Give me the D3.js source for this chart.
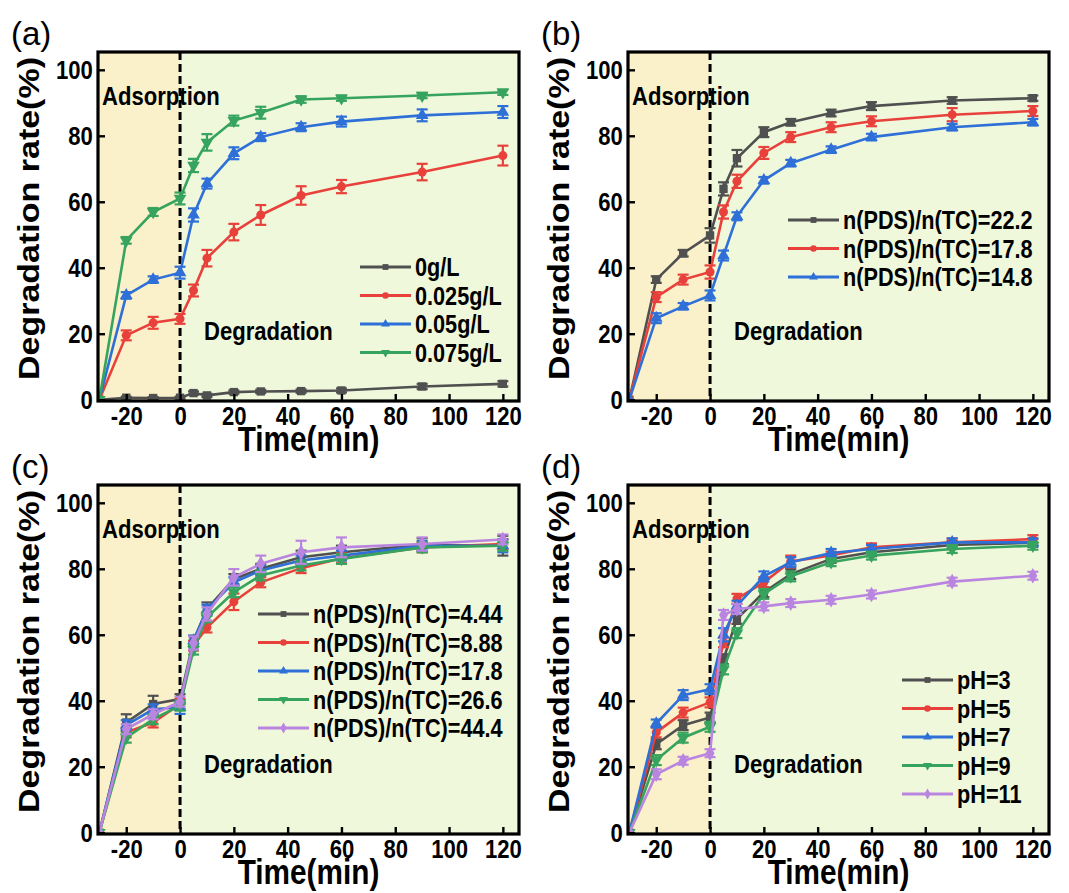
<!DOCTYPE html>
<html>
<head>
<meta charset="utf-8">
<script src="https://cdn.jsdelivr.net/npm/d3@7"></script>
<style>
  body { margin: 0; background: #fff; }
  svg { display: block; font-family: Arial, "Liberation Sans", sans-serif; }
</style>
</head>
<body>
<div id="chart"></div>
<script>
"use strict";

// sampling times (min), shared by every panel
var times = [-30, -20, -10, 0, 5, 10, 20, 30, 45, 60, 90, 120];
var xTicks = [-20, 0, 20, 40, 60, 80, 100, 120];
var yTicks = [0, 20, 40, 60, 80, 100];

// (a) catalyst dosage
var namesA = ["0g/L", "0.025g/L", "0.05g/L", "0.075g/L"];
var a0     = [0, 0.6, 0.5, 0.6, 2.0, 1.3, 2.3, 2.5, 2.6, 2.8, 4.0, 4.8];
var a0Err  = [0, 0.3, 0.3, 0.3, 0.5, 0.5, 0.5, 0.5, 0.5, 0.6, 0.8, 0.8];
var a025   = [0, 19.5, 23.3, 24.5, 33.1, 42.9, 50.8, 56.0, 61.9, 64.6, 69.0, 74.0];
var a025Err= [0, 1.5, 1.8, 1.5, 1.8, 2.5, 2.5, 3.0, 2.8, 2.0, 2.5, 3.0];
var a05    = [0, 31.6, 36.4, 38.5, 56.0, 65.5, 74.7, 79.6, 82.6, 84.3, 86.2, 87.2];
var a05Err = [0, 1.0, 1.0, 1.8, 2.0, 1.5, 1.8, 1.2, 1.2, 1.5, 1.8, 1.8];
var a075   = [0, 48.3, 56.9, 61.0, 71.0, 78.0, 84.6, 87.0, 91.0, 91.4, 92.2, 93.2];
var a075Err= [0, 1.0, 1.2, 1.8, 2.0, 2.5, 1.5, 1.8, 1.0, 0.8, 0.8, 0.8];

// (b) n(PDS)/n(TC) at fixed dosage
var namesB = ["n(PDS)/n(TC)=22.2", "n(PDS)/n(TC)=17.8", "n(PDS)/n(TC)=14.8"];
var b222   = [0, 36.4, 44.4, 49.8, 63.9, 73.2, 81.1, 84.1, 86.9, 89.0, 90.7, 91.4];
var b222Err= [0, 1.0, 1.0, 2.2, 2.0, 2.5, 1.5, 1.0, 1.0, 1.2, 1.0, 0.8];
var b178   = [0, 31.1, 36.4, 38.7, 56.9, 66.2, 74.8, 79.6, 82.6, 84.4, 86.4, 87.5];
var b178Err= [0, 1.5, 1.5, 2.0, 2.0, 2.0, 1.8, 1.5, 1.5, 1.5, 2.0, 1.5];
var b148   = [0, 24.7, 28.3, 31.6, 43.7, 55.6, 66.5, 71.7, 75.8, 79.6, 82.6, 84.1];
var b148Err= [0, 1.5, 1.0, 1.5, 1.5, 1.2, 1.0, 1.0, 1.0, 1.0, 1.0, 1.0];

// (c) n(PDS)/n(TC) ratio
var namesC = ["n(PDS)/n(TC)=4.44", "n(PDS)/n(TC)=8.88", "n(PDS)/n(TC)=17.8",
              "n(PDS)/n(TC)=26.6", "n(PDS)/n(TC)=44.4"];
var c444   = [0, 33.4, 39.0, 40.5, 58.2, 67.8, 76.9, 80.0, 83.5, 85.0, 87.3, 87.0];
var c444Err= [0, 2.5, 2.5, 1.5, 1.5, 2.0, 1.5, 1.5, 2.0, 2.0, 2.0, 3.0];
var c888   = [0, 30.4, 33.4, 39.0, 56.7, 62.2, 70.0, 75.9, 80.2, 83.2, 86.5, 87.5];
var c888Err= [0, 1.5, 1.5, 1.5, 1.5, 1.5, 2.5, 1.5, 1.5, 1.5, 1.5, 1.5];
var c178   = [0, 32.6, 37.4, 38.0, 58.2, 67.6, 75.9, 79.5, 82.5, 84.0, 87.0, 87.0];
var c178Err= [0, 1.5, 1.5, 2.0, 1.5, 1.5, 1.5, 1.5, 1.5, 1.5, 1.5, 2.0];
var c266   = [0, 28.8, 34.4, 38.5, 55.5, 65.3, 72.9, 78.0, 81.0, 83.0, 86.5, 87.0];
var c266Err= [0, 1.5, 1.5, 1.5, 1.5, 1.5, 1.5, 1.5, 1.5, 1.5, 1.5, 1.5];
var c444b  = [0, 31.4, 35.9, 39.7, 57.5, 66.3, 77.4, 81.5, 85.0, 86.5, 87.5, 88.9];
var c444bErr=[0, 1.5, 1.5, 1.5, 2.0, 2.0, 2.5, 2.5, 3.5, 3.0, 2.0, 1.5];

// (d) initial pH
var namesD = ["pH=3", "pH=5", "pH=7", "pH=9", "pH=11"];
var d3v    = [0, 26.8, 32.6, 34.9, 52.6, 64.8, 72.9, 78.4, 83.0, 85.0, 87.2, 87.9];
var d3Err  = [0, 1.5, 1.5, 1.5, 1.5, 1.5, 1.5, 1.5, 1.2, 1.2, 1.2, 1.2];
var d5v    = [0, 30.4, 36.4, 39.5, 57.7, 70.9, 75.9, 82.2, 84.0, 86.5, 88.0, 89.0];
var d5Err  = [0, 1.5, 1.5, 1.5, 1.5, 1.5, 1.5, 1.8, 1.2, 1.2, 1.2, 1.2];
var d7v    = [0, 33.1, 41.7, 43.5, 60.0, 68.8, 77.7, 82.0, 84.8, 86.0, 88.0, 88.0];
var d7Err  = [0, 1.2, 1.5, 1.5, 2.0, 1.5, 1.5, 1.5, 1.2, 1.2, 1.2, 1.2];
var d9v    = [0, 22.0, 28.8, 32.1, 49.5, 60.5, 72.4, 77.7, 82.0, 84.0, 86.0, 87.0];
var d9Err  = [0, 1.5, 1.5, 1.5, 1.5, 1.5, 1.5, 1.5, 1.2, 1.2, 1.2, 1.2];
var d11v   = [0, 17.7, 21.8, 24.1, 66.0, 67.8, 68.6, 69.6, 70.6, 72.2, 76.1, 77.9];
var d11Err = [0, 1.5, 1.2, 1.2, 1.5, 1.5, 1.2, 1.2, 1.2, 1.2, 1.2, 1.2];

// style per series slot (same order in every panel)
var colors = ["#505050", "#e8413b", "#2e6fd8", "#36a35e", "#b985e0"];
var shapes = ["square", "circle", "triangle", "triangleDown", "diamond"];

var panels = [
    { tag: "(a)", left: 98,  top: 52,  names: namesA,
      values: [a0, a025, a05, a075], errors: [a0Err, a025Err, a05Err, a075Err],
      legX: 262, legY: 215 },
    { tag: "(b)", left: 628, top: 52,  names: namesB,
      values: [b222, b178, b148], errors: [b222Err, b178Err, b148Err],
      legX: 160, legY: 168 },
    { tag: "(c)", left: 98,  top: 485, names: namesC,
      values: [c444, c888, c178, c266, c444b], errors: [c444Err, c888Err, c178Err, c266Err, c444bErr],
      legX: 160, legY: 129 },
    { tag: "(d)", left: 628, top: 485, names: namesD,
      values: [d3v, d5v, d7v, d9v, d11v], errors: [d3Err, d5Err, d7Err, d9Err, d11Err],
      legX: 274, legY: 195 }
];

var W = 1069, H = 893;
var pw = 421, ph = 349;
var squeeze = 0.85;   // the figure's lettering is narrowed horizontally

var svg = d3.select("#chart").append("svg")
    .attr("width", W)
    .attr("height", H);

svg.append("defs").append("clipPath").attr("id", "plotclip")
  .append("rect").attr("width", pw).attr("height", ph);

// scales (same for every panel, drawn in local coords)
var x = d3.scaleLinear().domain([-30.5, 126]).range([0, pw]);
var y = d3.scaleLinear().domain([-0.4, 105.4]).range([ph, 0]);

function symbolType(shape) {
    if (shape == "square") return d3.symbolSquare;
    if (shape == "circle") return d3.symbolCircle;
    if (shape == "diamond") return d3.symbolDiamond;
    return d3.symbolTriangle;
}
function symbolRot(shape) {
    return shape == "triangleDown" ? " rotate(180)" : "";
}

// narrowed bold text helper
function label(sel, px, py, size, str, anchor) {
    return sel.append("text")
        .attr("transform", "translate(" + px + "," + py + ") scale(" + squeeze + ",1)")
        .attr("text-anchor", anchor || "start")
        .attr("font-size", size)
        .attr("font-weight", "bold")
        .text(str);
}

var line = d3.line()
    .x(function(d) { return x(d.t); })
    .y(function(d) { return y(d.v); });

panels.forEach(function(p) {
    var g = svg.append("g")
        .attr("transform", "translate(" + p.left + "," + p.top + ")");

    // background regions
    g.append("rect")
        .attr("x", 0).attr("y", 0)
        .attr("width", x(0)).attr("height", ph)
        .attr("fill", "#faf0c9");
    g.append("rect")
        .attr("x", x(0)).attr("y", 0)
        .attr("width", pw - x(0)).attr("height", ph)
        .attr("fill", "#eff8db");

    // region labels
    label(g, 4, 53, 26, "Adsorption");
    label(g, 106, 288, 26, "Degradation");

    // dashed divider at t = 0
    g.append("line")
        .attr("x1", x(0)).attr("x2", x(0))
        .attr("y1", 0).attr("y2", ph)
        .attr("stroke", "#000")
        .attr("stroke-width", 3)
        .attr("stroke-dasharray", "8,4");

    var plot = g.append("g").attr("clip-path", "url(#plotclip)");

    p.values.forEach(function(vals, i) {
        var pts = times.map(function(t, k) { return { t: t, v: vals[k], e: p.errors[i][k] }; });
        var col = colors[i];

        plot.append("path")
            .datum(pts)
            .attr("fill", "none")
            .attr("stroke", col)
            .attr("stroke-width", 2.6)
            .attr("d", line);

        // error bars
        var eb = plot.selectAll(null)
            .data(pts.filter(function(d) { return d.e > 0; }))
            .enter().append("g")
            .attr("stroke", col)
            .attr("stroke-width", 2.2);
        eb.append("line")
            .attr("x1", function(d) { return x(d.t); })
            .attr("x2", function(d) { return x(d.t); })
            .attr("y1", function(d) { return y(d.v - d.e); })
            .attr("y2", function(d) { return y(d.v + d.e); });
        eb.append("line")
            .attr("x1", function(d) { return x(d.t) - 5.5; })
            .attr("x2", function(d) { return x(d.t) + 5.5; })
            .attr("y1", function(d) { return y(d.v + d.e); })
            .attr("y2", function(d) { return y(d.v + d.e); });
        eb.append("line")
            .attr("x1", function(d) { return x(d.t) - 5.5; })
            .attr("x2", function(d) { return x(d.t) + 5.5; })
            .attr("y1", function(d) { return y(d.v - d.e); })
            .attr("y2", function(d) { return y(d.v - d.e); });

        plot.selectAll(null)
            .data(pts)
            .enter().append("path")
            .attr("d", d3.symbol(symbolType(shapes[i]), shapes[i] == "circle" ? 64 : 70)())
            .attr("transform", function(d) {
                return "translate(" + x(d.t) + "," + y(d.v) + ")" + symbolRot(shapes[i]);
            })
            .attr("fill", col);
    });

    // legend
    var leg = g.append("g")
        .attr("transform", "translate(" + p.legX + "," + p.legY + ")");
    p.names.forEach(function(name, i) {
        var row = leg.append("g").attr("transform", "translate(0," + (i * 28.5) + ")");
        row.append("line")
            .attr("x1", 0).attr("x2", 51)
            .attr("stroke", colors[i]).attr("stroke-width", 2.8);
        row.append("path")
            .attr("d", d3.symbol(symbolType(shapes[i]), 34)())
            .attr("transform", "translate(25.5,0)" + symbolRot(shapes[i]))
            .attr("fill", colors[i]);
        label(row, 55, 9, 25.5, name);
    });

    // frame
    g.append("rect")
        .attr("width", pw).attr("height", ph)
        .attr("fill", "none")
        .attr("stroke", "#000")
        .attr("stroke-width", 3.2);

    // axes with inward ticks, plain hyphen for negatives
    var plain = function(d) { return String(d); };
    var xAxis = g.append("g")
        .attr("transform", "translate(0," + ph + ")")
        .call(d3.axisBottom(x).tickValues(xTicks).tickFormat(plain)
              .tickSizeInner(-7).tickSizeOuter(0).tickPadding(6));
    var yAxis = g.append("g")
        .call(d3.axisLeft(y).tickValues(yTicks).tickFormat(plain)
              .tickSizeInner(-7).tickSizeOuter(0).tickPadding(6));
    [xAxis, yAxis].forEach(function(a) {
        a.select(".domain").remove();
        a.selectAll(".tick line").attr("stroke", "#000").attr("stroke-width", 2.4);
        a.selectAll(".tick text")
            .attr("font-size", 26)
            .attr("font-weight", "bold")
            .attr("font-family", "Arial, 'Liberation Sans', sans-serif")
            .attr("fill", "#000")
            .attr("transform", "scale(" + squeeze + ",1)");
    });

    // axis titles
    label(g, pw / 2, ph + 50, 35, "Time(min)", "middle");
    g.append("text")
        .attr("transform", "translate(-59," + (ph / 2 - 8) + ") rotate(-90) scale(1," + squeeze + ")")
        .attr("text-anchor", "middle")
        .attr("font-size", 34).attr("font-weight", "bold")
        .text("Degradation rate(%)");

    // panel tag
    g.append("text")
        .attr("x", -87).attr("y", -7)
        .attr("font-size", 33)
        .text(p.tag);
});
</script>
</body>
</html>
